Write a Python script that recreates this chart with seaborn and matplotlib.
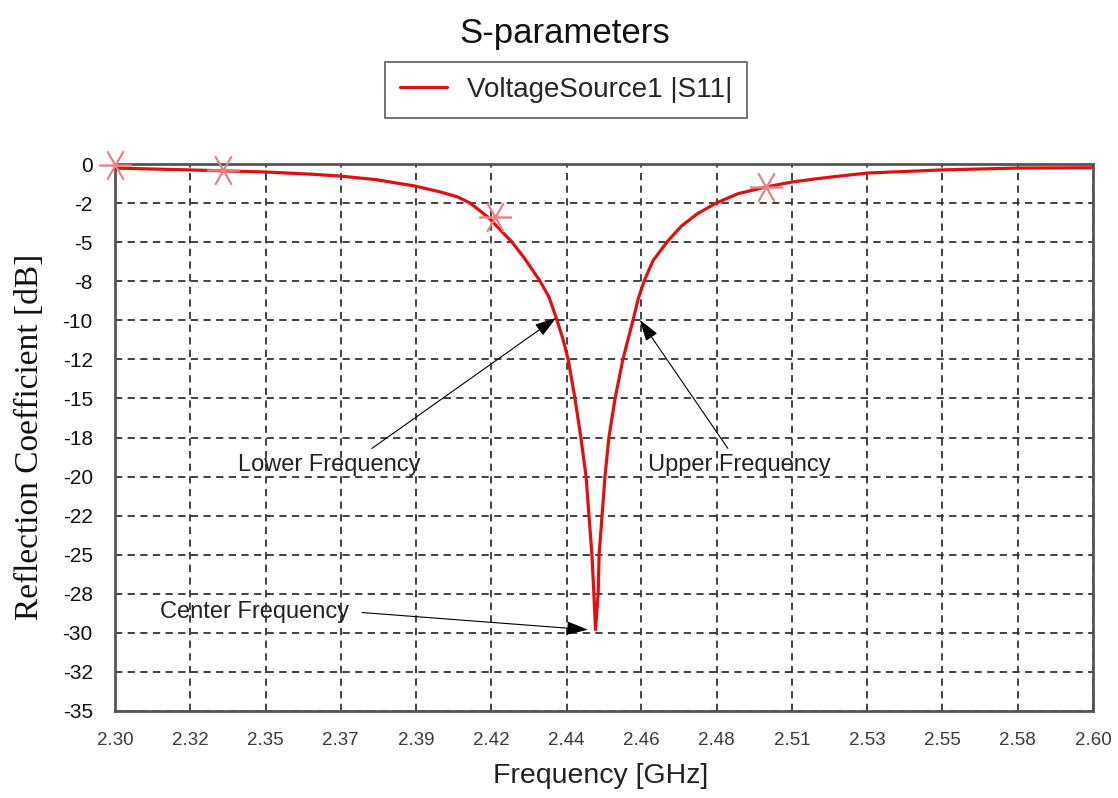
import matplotlib
matplotlib.use("Agg")
import matplotlib.pyplot as plt
import seaborn as sns
import pandas as pd

# ---- data ----
freq_ghz = [2.300, 2.323, 2.346, 2.360, 2.369, 2.380, 2.392, 2.400, 2.405, 2.4089,
            2.4120, 2.4150, 2.4172, 2.4218, 2.4255, 2.4304, 2.4331, 2.4356,
            2.4374, 2.4390, 2.4411, 2.4429, 2.4445, 2.4454, 2.4463, 2.4469, 2.4474,
            2.4482, 2.4485, 2.4494, 2.4503, 2.4515, 2.4534, 2.4558, 2.4574, 2.4589,
            2.4604, 2.4623, 2.4650, 2.4693, 2.4736, 2.4785, 2.4844, 2.4911,
            2.4997, 2.5077, 2.5150, 2.5224, 2.5307, 2.5534, 2.5767, 2.600]
s11_db = [-0.26, -0.38, -0.51, -0.65, -0.77, -1.0, -1.41, -1.8, -2.1, -2.5,
          -3.0, -3.5, -4.0, -5.0, -6.0, -7.5, -8.5, -10.0,
          -11.2, -12.5, -15.0, -17.5, -20.0, -22.5, -25.0, -27.5, -29.8,
          -27.5, -25.0, -22.5, -20.0, -17.5, -15.0, -12.5, -11.2, -10.0,
          -8.7, -7.5, -6.2, -5.0, -4.0, -3.2, -2.5, -1.9,
          -1.47, -1.15, -0.95, -0.77, -0.58, -0.38, -0.26, -0.24]

marker_freq = [2.300, 2.3331, 2.4165, 2.4997]
marker_db = [-0.06, -0.38, -3.4, -1.47]

x_ticks = [2.30, 2.3231, 2.3462, 2.3692, 2.3923, 2.4154, 2.4385, 2.4615,
           2.4846, 2.5077, 2.5308, 2.5538, 2.5769, 2.60]
x_tick_labels = ["2.30", "2.32", "2.35", "2.37", "2.39", "2.42", "2.44", "2.46",
                 "2.48", "2.51", "2.53", "2.55", "2.58", "2.60"]
y_ticks = [0, -2.5, -5, -7.5, -10, -12.5, -15, -17.5, -20, -22.5, -25, -27.5,
           -30, -32.5, -35]
y_tick_labels = ["0", "-2", "-5", "-8", "-10", "-12", "-15", "-18", "-20", "-22",
                 "-25", "-28", "-30", "-32", "-35"]

annotations = [
    ("Lower Frequency", (2.4353, -9.85), (2.3377, -19.26), (2.3788, -18.2)),
    ("Upper Frequency", (2.4610, -9.98), (2.4635, -19.26), (2.4880, -18.2)),
    ("Center Frequency", (2.4451, -29.8), (2.3138, -28.67), (2.3758, -28.7)),
]

# ---- style ----
sns.set_theme(style="white")
plt.rcParams["font.family"] = ["Liberation Sans", "DejaVu Sans"]

fig = plt.figure(figsize=(11.18, 7.98), dpi=100)
ax = fig.add_axes([115 / 1118, 1 - 711 / 798, (1093 - 115) / 1118, (711 - 164) / 798])

df = pd.DataFrame({"Frequency": freq_ghz, "S11": s11_db})
sns.lineplot(data=df, x="Frequency", y="S11", ax=ax, color="#e01010", linewidth=2.3,
             sort=False, label="VoltageSource1 |S11|", legend=False, zorder=3)
mk = pd.DataFrame({"Frequency": marker_freq, "S11": marker_db})
sns.scatterplot(data=mk, x="Frequency", y="S11", ax=ax, marker=(6, 2, 90), s=520,
                color="#ea8080", linewidth=1.2, zorder=4, legend=False, clip_on=False)

ax.set_xlim(2.30, 2.60)
ax.set_ylim(-35, 0)
ax.set_xticks(x_ticks)
ax.set_xticklabels(x_tick_labels, fontsize=13.5, color="#3a3a3a")
ax.set_yticks(y_ticks)
ax.set_yticklabels(y_tick_labels, fontsize=15, color="#111111")
ax.tick_params(axis="x", length=0, pad=15)
ax.tick_params(axis="y", length=0, pad=16)

ax.grid(True, linestyle=(0, (4, 3)), color="#333333", linewidth=1.3)
for sp in ax.spines.values():
    sp.set_color("#555555")
    sp.set_linewidth(2)
    sp.set_visible(True)

ax.set_xlabel("")
ax.set_ylabel("")
fig.text(601 / 1118, 1 - 776 / 798, "Frequency [GHz]", ha="center", va="center",
         fontsize=20.5, color="#222222")
fig.text(30 / 1118, 1 - 437 / 798, "Reflection Coefficient [dB]", ha="center",
         va="center", rotation=90, fontsize=24, family=["Liberation Serif"], color="#111111")
fig.text(565 / 1118, 1 - 33 / 798, "S-parameters", ha="center", va="center",
         fontsize=25, color="#111111")

for text, tip, tpos, tail in annotations:
    ax.text(tpos[0], tpos[1], text, ha="left", va="center", fontsize=17,
            color="#222222", zorder=5)
    ax.annotate("", xy=tip, xytext=tail,
                arrowprops=dict(arrowstyle="-|>,head_length=1.1,head_width=0.35",
                                color="black", lw=0.8, shrinkA=0, shrinkB=0), zorder=5)

leg = fig.legend(handles=[ax.lines[0]], labels=["VoltageSource1 |S11|"],
                 loc="center", bbox_to_anchor=(566 / 1118, 1 - 90 / 798),
                 frameon=True, fancybox=False, prop={"size": 20},
                 handlelength=1.7, borderpad=0.55, handletextpad=0.7)
leg.get_frame().set_edgecolor("#333333")
leg.get_frame().set_linewidth(1.2)

fig.savefig("out.png", dpi=100)
